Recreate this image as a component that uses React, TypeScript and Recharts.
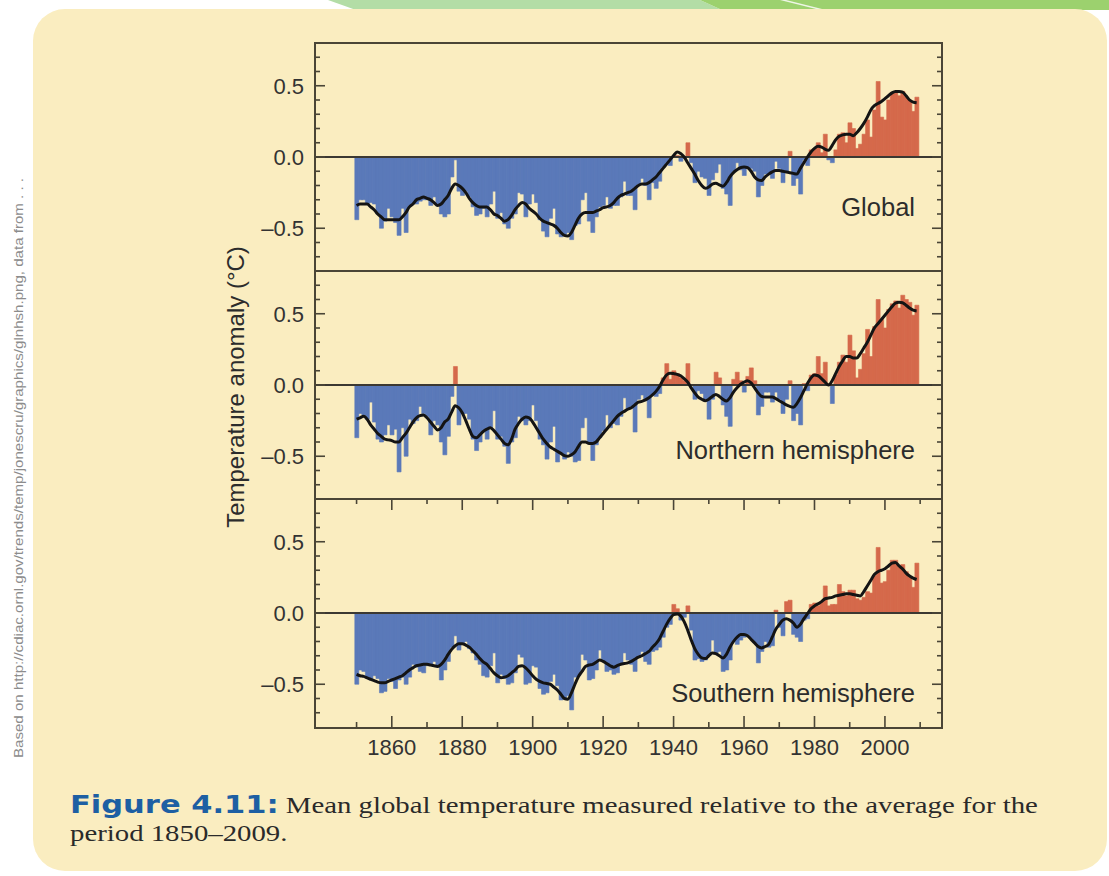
import React from 'react'
import { ComposedChart, Bar, Line, XAxis, YAxis, ReferenceLine, Cell } from 'recharts'

// annual anomalies (°C), one value per year from 1850 to 2009
const firstYear = 1850

const globalAnomaly = [
  -0.44, -0.30, -0.30, -0.33, -0.32, -0.33, -0.40, -0.50, -0.45, -0.36,
  -0.42, -0.46, -0.55, -0.36, -0.53, -0.34, -0.33, -0.33, -0.31, -0.30,
  -0.30, -0.34, -0.28, -0.33, -0.40, -0.42, -0.40, -0.14, -0.02, -0.24,
  -0.27, -0.24, -0.28, -0.35, -0.41, -0.40, -0.36, -0.42, -0.33, -0.24,
  -0.43, -0.39, -0.47, -0.50, -0.43, -0.40, -0.25, -0.26, -0.42, -0.33,
  -0.26, -0.32, -0.44, -0.52, -0.56, -0.43, -0.36, -0.54, -0.56, -0.55,
  -0.53, -0.58, -0.48, -0.47, -0.30, -0.25, -0.45, -0.53, -0.42, -0.35,
  -0.34, -0.28, -0.36, -0.34, -0.34, -0.28, -0.17, -0.27, -0.27, -0.37,
  -0.19, -0.15, -0.20, -0.30, -0.18, -0.22, -0.17, -0.07, -0.04, -0.06,
  0.00, 0.01, -0.03, -0.01, 0.10, -0.04, -0.18, -0.10, -0.14, -0.15,
  -0.27, -0.16, -0.11, -0.05, -0.22, -0.26, -0.34, -0.10, -0.04, -0.09,
  -0.13, -0.07, -0.08, -0.10, -0.28, -0.20, -0.12, -0.12, -0.15, -0.03,
  -0.08, -0.18, -0.10, 0.04, -0.20, -0.15, -0.26, -0.02, -0.06, 0.05,
  0.06, 0.10, 0.03, 0.16, -0.02, -0.04, 0.05, 0.16, 0.17, 0.10,
  0.24, 0.20, 0.06, 0.09, 0.16, 0.26, 0.14, 0.33, 0.53, 0.28,
  0.26, 0.40, 0.45, 0.45, 0.43, 0.46, 0.42, 0.40, 0.32, 0.42,
]

const globalSmooth = [
  -0.34, -0.33, -0.33, -0.33, -0.35, -0.37, -0.40, -0.42, -0.44, -0.44,
  -0.44, -0.44, -0.44, -0.42, -0.39, -0.35, -0.33, -0.30, -0.29, -0.28,
  -0.29, -0.30, -0.32, -0.34, -0.33, -0.30, -0.27, -0.22, -0.19, -0.20,
  -0.22, -0.25, -0.29, -0.32, -0.34, -0.35, -0.35, -0.35, -0.37, -0.40,
  -0.41, -0.43, -0.45, -0.44, -0.41, -0.37, -0.34, -0.32, -0.33, -0.36,
  -0.38, -0.40, -0.43, -0.45, -0.46, -0.47, -0.48, -0.50, -0.53, -0.55,
  -0.555, -0.53, -0.48, -0.43, -0.40, -0.39, -0.39, -0.39, -0.38, -0.37,
  -0.355, -0.35, -0.34, -0.32, -0.29, -0.27, -0.26, -0.25, -0.24, -0.22,
  -0.20, -0.19, -0.19, -0.18, -0.16, -0.14, -0.11, -0.08, -0.05, -0.02,
  0.01, 0.035, 0.025, 0.00, -0.04, -0.08, -0.12, -0.165, -0.20, -0.22,
  -0.21, -0.19, -0.185, -0.195, -0.205, -0.18, -0.14, -0.11, -0.09, -0.075,
  -0.07, -0.075, -0.10, -0.14, -0.16, -0.165, -0.14, -0.12, -0.105, -0.095,
  -0.095, -0.10, -0.105, -0.11, -0.115, -0.12, -0.08, -0.04, 0.00, 0.035,
  0.06, 0.075, 0.07, 0.055, 0.047, 0.08, 0.12, 0.145, 0.155, 0.16,
  0.16, 0.15, 0.17, 0.20, 0.236, 0.28, 0.33, 0.36, 0.375, 0.39,
  0.41, 0.43, 0.45, 0.46, 0.46, 0.455, 0.43, 0.40, 0.385, 0.38,
]

const northAnomaly = [
  -0.37, -0.20, -0.21, -0.24, -0.12, -0.26, -0.38, -0.40, -0.35, -0.28,
  -0.35, -0.31, -0.61, -0.30, -0.50, -0.24, -0.27, -0.25, -0.15, -0.20,
  -0.22, -0.35, -0.25, -0.28, -0.40, -0.49, -0.36, -0.08, 0.13, -0.28,
  -0.20, -0.20, -0.24, -0.38, -0.46, -0.40, -0.33, -0.38, -0.30, -0.18,
  -0.38, -0.36, -0.43, -0.55, -0.40, -0.37, -0.22, -0.25, -0.28, -0.25,
  -0.14, -0.25, -0.38, -0.42, -0.52, -0.40, -0.29, -0.54, -0.48, -0.52,
  -0.47, -0.50, -0.54, -0.53, -0.30, -0.23, -0.40, -0.53, -0.42, -0.37,
  -0.32, -0.21, -0.30, -0.27, -0.28, -0.22, -0.09, -0.17, -0.15, -0.33,
  -0.10, -0.07, -0.11, -0.23, -0.07, -0.08, -0.06, 0.05, 0.15, 0.04,
  0.10, 0.08, 0.05, 0.03, 0.15, 0.00, -0.10, -0.04, -0.06, -0.10,
  -0.24, -0.10, 0.09, 0.05, -0.14, -0.22, -0.29, 0.04, 0.09, 0.03,
  -0.05, 0.06, 0.12, 0.03, -0.21, -0.15, -0.05, -0.05, -0.12, -0.05,
  -0.10, -0.20, -0.10, 0.03, -0.25, -0.20, -0.28, 0.01, -0.04, 0.07,
  0.08, 0.20, 0.08, 0.16, 0.01, -0.13, 0.07, 0.16, 0.21, 0.16,
  0.35, 0.24, 0.05, 0.11, 0.22, 0.39, 0.20, 0.41, 0.60, 0.46,
  0.40, 0.53, 0.57, 0.59, 0.54, 0.63, 0.60, 0.58, 0.49, 0.56,
]

const northSmooth = [
  -0.24, -0.23, -0.22, -0.24, -0.28, -0.31, -0.34, -0.36, -0.38, -0.385,
  -0.39, -0.40, -0.40, -0.37, -0.34, -0.30, -0.26, -0.23, -0.215, -0.21,
  -0.23, -0.26, -0.29, -0.315, -0.30, -0.26, -0.24, -0.19, -0.145, -0.16,
  -0.195, -0.25, -0.31, -0.36, -0.37, -0.35, -0.325, -0.31, -0.30, -0.32,
  -0.35, -0.38, -0.41, -0.42, -0.38, -0.31, -0.27, -0.24, -0.225, -0.23,
  -0.26, -0.30, -0.34, -0.38, -0.41, -0.435, -0.45, -0.465, -0.48, -0.495,
  -0.50, -0.49, -0.47, -0.43, -0.40, -0.40, -0.41, -0.41, -0.40, -0.37,
  -0.34, -0.31, -0.28, -0.25, -0.22, -0.20, -0.185, -0.17, -0.16, -0.14,
  -0.12, -0.115, -0.105, -0.09, -0.07, -0.045, -0.01, 0.035, 0.07, 0.083,
  0.08, 0.075, 0.065, 0.045, 0.02, -0.02, -0.055, -0.085, -0.10, -0.11,
  -0.10, -0.08, -0.066, -0.08, -0.10, -0.113, -0.09, -0.05, -0.02, 0.005,
  0.02, 0.03, 0.015, -0.02, -0.055, -0.08, -0.085, -0.085, -0.085, -0.095,
  -0.11, -0.125, -0.14, -0.15, -0.156, -0.13, -0.09, -0.04, 0.01, 0.05,
  0.07, 0.065, 0.045, 0.02, 0.00, 0.03, 0.08, 0.13, 0.17, 0.20,
  0.20, 0.19, 0.19, 0.22, 0.26, 0.30, 0.35, 0.40, 0.43, 0.46,
  0.49, 0.52, 0.55, 0.575, 0.58, 0.577, 0.56, 0.54, 0.525, 0.52,
]

const southAnomaly = [
  -0.50, -0.40, -0.41, -0.45, -0.47, -0.44, -0.46, -0.56, -0.55, -0.46,
  -0.48, -0.53, -0.47, -0.45, -0.50, -0.45, -0.36, -0.38, -0.41, -0.42,
  -0.37, -0.36, -0.34, -0.38, -0.47, -0.40, -0.34, -0.24, -0.16, -0.26,
  -0.22, -0.20, -0.25, -0.28, -0.33, -0.36, -0.44, -0.45, -0.37, -0.28,
  -0.49, -0.43, -0.46, -0.50, -0.49, -0.42, -0.29, -0.31, -0.50, -0.49,
  -0.37, -0.38, -0.53, -0.57, -0.56, -0.48, -0.43, -0.51, -0.61, -0.60,
  -0.58, -0.68, -0.45, -0.44, -0.29, -0.33, -0.47, -0.46, -0.40, -0.26,
  -0.34, -0.41, -0.40, -0.43, -0.42, -0.36, -0.28, -0.33, -0.36, -0.41,
  -0.30, -0.27, -0.34, -0.36, -0.27, -0.26, -0.24, -0.17, -0.10, -0.08,
  0.06, 0.03, -0.05, -0.03, 0.05, -0.12, -0.33, -0.32, -0.34, -0.33,
  -0.30, -0.19, -0.28, -0.27, -0.41, -0.40, -0.33, -0.20, -0.22, -0.19,
  -0.17, -0.15, -0.18, -0.21, -0.35, -0.27, -0.20, -0.24, -0.23, 0.02,
  -0.10, -0.16, 0.08, 0.09, -0.15, -0.17, -0.20, -0.05, -0.04, 0.06,
  0.07, 0.05, 0.08, 0.19, 0.05, 0.06, 0.06, 0.20, 0.15, 0.12,
  0.16, 0.16, 0.10, 0.09, 0.11, 0.15, 0.14, 0.26, 0.46, 0.21,
  0.22, 0.30, 0.37, 0.37, 0.33, 0.34, 0.29, 0.25, 0.18, 0.35,
]

const southSmooth = [
  -0.43, -0.44, -0.445, -0.455, -0.465, -0.475, -0.485, -0.49, -0.49, -0.48,
  -0.47, -0.46, -0.45, -0.44, -0.42, -0.40, -0.385, -0.37, -0.365, -0.36,
  -0.36, -0.365, -0.37, -0.375, -0.36, -0.33, -0.29, -0.255, -0.23, -0.215,
  -0.215, -0.225, -0.24, -0.265, -0.29, -0.32, -0.345, -0.36, -0.39, -0.42,
  -0.44, -0.455, -0.45, -0.44, -0.42, -0.40, -0.375, -0.37, -0.385, -0.41,
  -0.44, -0.465, -0.48, -0.49, -0.495, -0.50, -0.52, -0.54, -0.57, -0.60,
  -0.605, -0.56, -0.50, -0.445, -0.41, -0.375, -0.365, -0.36, -0.345, -0.33,
  -0.34, -0.355, -0.37, -0.38, -0.37, -0.36, -0.355, -0.35, -0.34, -0.325,
  -0.31, -0.30, -0.285, -0.27, -0.24, -0.215, -0.18, -0.13, -0.08, -0.04,
  -0.012, -0.007, -0.02, -0.06, -0.12, -0.19, -0.25, -0.29, -0.315, -0.32,
  -0.30, -0.28, -0.285, -0.30, -0.315, -0.29, -0.24, -0.20, -0.17, -0.15,
  -0.15, -0.16, -0.185, -0.21, -0.235, -0.245, -0.235, -0.22, -0.17, -0.115,
  -0.08, -0.05, -0.04, -0.05, -0.07, -0.10, -0.08, -0.04, -0.005, 0.03,
  0.05, 0.064, 0.08, 0.10, 0.105, 0.11, 0.12, 0.125, 0.13, 0.135,
  0.135, 0.13, 0.125, 0.12, 0.15, 0.19, 0.23, 0.27, 0.29, 0.30,
  0.31, 0.33, 0.35, 0.355, 0.33, 0.31, 0.28, 0.26, 0.245, 0.235,
]

const yearTicks = [1850, 1860, 1870, 1880, 1890, 1900, 1910, 1920, 1930, 1940, 1950, 1960, 1970, 1980, 1990, 2000, 2010]
const tempTicks = [-0.7, -0.6, -0.5, -0.4, -0.3, -0.2, -0.1, 0, 0.1, 0.2, 0.3, 0.4, 0.5, 0.6, 0.7]
const tempLabels: Record<string, string> = { '-0.5': '–0.5', '0': '0.0', '0.5': '0.5' }

const BLUE = '#5a79b9'
const RED = '#d5694b'
const FRAME = '#4a4536'
const TEXT = '#333'
const SANS = '"Liberation Sans", Arial, sans-serif'

const PLOT_LEFT = 315
const PLOT_RIGHT = 942
const PANEL_H = 228
const AXIS_W = 60

function YearTick(props: any) {
  const { x, payload, showLabel } = props
  const major = payload.value % 20 === 0
  const len = major ? 11 : 5
  return (
    <g>
      <line x1={x} y1={0} x2={x} y2={len} stroke={FRAME} strokeWidth={1.6} />
      <line x1={x} y1={PANEL_H} x2={x} y2={PANEL_H - len} stroke={FRAME} strokeWidth={1.6} />
      {showLabel && major && payload.value < 2010 && (
        <text x={x} y={PANEL_H + 20} dy="0.36em" textAnchor="middle" fontSize={22} fontFamily={SANS} fill={TEXT}>
          {payload.value}
        </text>
      )}
    </g>
  )
}

function TempTick(props: any) {
  const { y, payload } = props
  const key = String(Math.round(payload.value * 10) / 10)
  const label = tempLabels[key]
  const len = label ? 10 : 5
  return (
    <g>
      <line x1={PLOT_LEFT} y1={y} x2={PLOT_LEFT + len} y2={y} stroke={FRAME} strokeWidth={1.6} />
      <line x1={PLOT_RIGHT} y1={y} x2={PLOT_RIGHT - len} y2={y} stroke={FRAME} strokeWidth={1.6} />
      {label && (
        <text x={PLOT_LEFT - 11} y={y} dy="0.36em" textAnchor="end" fontSize={22} fontFamily={SANS} fill={TEXT}>
          {label}
        </text>
      )}
    </g>
  )
}

function Panel({ values, smooth, top, showYears }: { values: number[]; smooth: number[]; top: number; showYears?: boolean }) {
  const data = values.map((v, i) => ({ year: firstYear + i, value: v, smooth: smooth[i] }))
  const axisH = showYears ? 44 : 0
  return (
    <div style={{ position: 'absolute', left: 0, top }}>
      <ComposedChart
        width={1109}
        height={PANEL_H + axisH}
        data={data}
        margin={{ top: 0, right: 1109 - PLOT_RIGHT, bottom: 0, left: PLOT_LEFT - AXIS_W }}
        barCategoryGap={0}
        barGap={0}
      >
        <XAxis
          dataKey="year"
          type="number"
          domain={[1838.2, 2016.2]}
          ticks={yearTicks}
          interval={0}
          allowDataOverflow
          height={axisH}
          axisLine={false}
          tickLine={false}
          tick={(p: any) => <YearTick {...p} showLabel={showYears} />}
        />
        <YAxis
          type="number"
          domain={[-0.8, 0.8]}
          ticks={tempTicks}
          interval={0}
          allowDataOverflow
          width={AXIS_W}
          axisLine={false}
          tickLine={false}
          tick={(p: any) => <TempTick {...p} />}
        />
        <Bar dataKey="value" isAnimationActive={false}>
          {data.map((d) => {
            const c = d.value >= 0 ? RED : BLUE
            return <Cell key={d.year} fill={c} stroke={c} strokeWidth={0.6} />
          })}
        </Bar>
        <ReferenceLine y={0} stroke="#3b3832" strokeWidth={2} />
        <Line dataKey="smooth" type="monotone" stroke="#141414" strokeWidth={3} dot={false} isAnimationActive={false} />
      </ComposedChart>
    </div>
  )
}

const panelLabel = (text: string, centerY: number) => (
  <div
    style={{
      position: 'absolute',
      right: 1109 - 915,
      top: centerY - 14,
      fontFamily: SANS,
      fontSize: 25.5,
      lineHeight: '28px',
      color: '#2c2c2c',
      whiteSpace: 'nowrap',
    }}
  >
    {text}
  </div>
)

export default function App() {
  return (
    <div style={{ position: 'absolute', left: 0, top: 0, width: 1109, height: 876, overflow: 'hidden', background: '#fff' }}>
      <svg width={1109} height={12} style={{ position: 'absolute', left: 0, top: 0 }}>
        <polygon points="328,0 700,0 722,10 356,10" fill="#b3dda6" />
        <polygon points="700,0 1109,0 1109,10 722,10" fill="#9cd16e" />
        <polygon points="780,0 786,0 826,10 820,10" fill="#eef6e6" />
      </svg>
      <div
        style={{
          position: 'absolute',
          left: 33,
          top: 9,
          width: 1074,
          height: 862,
          borderRadius: 32,
          background: '#faedc0',
        }}
      />
      <svg width={40} height={876} style={{ position: 'absolute', left: 0, top: 0 }}>
        <text
          transform="translate(23, 758) rotate(-90)"
          textLength={580}
          lengthAdjust="spacingAndGlyphs"
          fontSize={13}
          fontFamily={SANS}
          fill="#8c8c8c"
        >
          Based on http://cdiac.ornl.gov/trends/temp/jonescru/graphics/glnhsh.png, data from . . .
        </text>
      </svg>

      <Panel values={globalAnomaly} smooth={globalSmooth} top={43} />
      <Panel values={northAnomaly} smooth={northSmooth} top={271} />
      <Panel values={southAnomaly} smooth={southSmooth} top={499} showYears />

      <div style={{ position: 'absolute', left: 314, top: 42, width: 629, height: 687, border: `2px solid ${FRAME}`, boxSizing: 'border-box' }} />
      <div style={{ position: 'absolute', left: 314, top: 270, width: 629, height: 2, background: FRAME }} />
      <div style={{ position: 'absolute', left: 314, top: 498, width: 629, height: 2, background: FRAME }} />

      {panelLabel('Global', 207)}
      {panelLabel('Northern hemisphere', 450)}
      {panelLabel('Southern hemisphere', 693)}

      <div
        style={{
          position: 'absolute',
          left: 236 - 200,
          top: 387 - 14,
          width: 400,
          height: 28,
          lineHeight: '28px',
          textAlign: 'center',
          transform: 'rotate(-90deg)',
          fontFamily: SANS,
          fontSize: 24,
          color: '#2c2c2c',
          whiteSpace: 'nowrap',
        }}
      >
        Temperature anomaly (°C)
      </div>

      <div
        style={{
          position: 'absolute',
          left: 70,
          top: 791,
          lineHeight: '28px',
          fontFamily: '"Liberation Serif", "Times New Roman", serif',
          fontSize: 23.6,
          color: '#2a2a2a',
          whiteSpace: 'nowrap',
          transform: 'scaleX(1.22)',
          transformOrigin: 'left top',
        }}
      >
        <span style={{ fontFamily: '"DejaVu Sans", "Liberation Sans", sans-serif', fontWeight: 700, fontSize: 25, color: '#1d5fa3' }}>Figure 4.11:</span>{' '}
        Mean global temperature measured relative to the average for the
        <br />
        period 1850–2009.
      </div>
    </div>
  )
}
